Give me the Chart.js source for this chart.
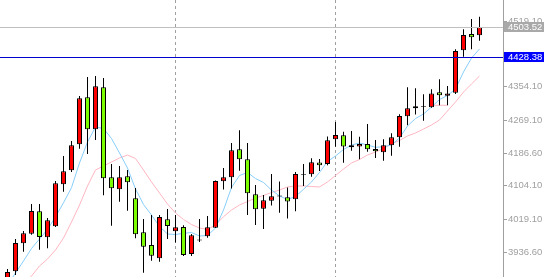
<!DOCTYPE html>
<html>
<head>
<meta charset="utf-8">
<title>Candles</title>
<script src="https://cdn.jsdelivr.net/npm/chart.js@4.4.1/dist/chart.umd.min.js"></script>
<style>
  html, body { margin: 0; padding: 0; background: #fff; }
  #wrap { position: relative; width: 544px; height: 277px; }
</style>
</head>
<body>
<div id="wrap"><canvas id="chart"></canvas></div>
<script>
// bar values (price units)
const OPEN = [3869.4, 3888.8, 3959.3, 3983.5, 4039.9, 3974.4, 4002.1, 4107.9, 4143.1, 4208.6,
  4327.0, 4246.4, 4352.1, 4125.5, 4095.3, 4128.0, 4072.6, 3987.0, 3955.0, 3921.5,
  4019.7, 3989.5, 4000.3, 3932.3, 3966.3, 3976.9, 3998.6, 4115.4, 4125.5, 4196.0,
  4170.8, 4082.7, 4046.4, 4066.6, 4077.4, 4075.1, 4070.1, 4131.0, 4133.3, 4162.8,
  4159.0, 4221.2, 4231.5, 4206.1, 4203.3, 4209.4, 4196.8, 4188.5, 4206.3, 4226.2,
  4279.1, 4299.3, 4302.3, 4301.8, 4339.6, 4331.0, 4338.5, 4445.3, 4486.4, 4483.1];
const HIGH = [3894.6, 3970.1, 3990.2, 4058.2, 4058.2, 4023.0, 4116.2, 4179.1, 4216.9, 4330.2,
  4378.1, 4380.6, 4375.6, 4159.0, 4153.9, 4143.9, 4098.5, 4020.5, 4030.5, 4030.5,
  4045.7, 4030.5, 4004.6, 3982.7, 4020.5, 4028.0, 4117.4, 4148.9, 4211.9, 4243.9,
  4211.9, 4106.1, 4080.9, 4133.8, 4114.9, 4099.8, 4138.8, 4159.0, 4173.3, 4171.6,
  4228.2, 4264.8, 4240.3, 4242.1, 4227.7, 4259.7, 4219.4, 4221.2, 4236.3, 4284.4,
  4352.1, 4349.6, 4334.8, 4347.4, 4372.3, 4355.4, 4447.8, 4498.2, 4524.2, 4529.9];
const LOW = [3859.3, 3879.4, 3938.1, 3980.9, 3943.2, 3946.7, 4000.3, 4089.2, 4138.8, 4197.5,
  4184.2, 4219.4, 4080.2, 4003.6, 4064.0, 4041.4, 3971.9, 3885.2, 3915.5, 3912.9,
  3970.1, 3961.3, 3927.3, 3927.3, 3962.5, 3973.4, 3997.8, 4094.8, 4097.3, 4142.1,
  4030.5, 4005.4, 3995.3, 4054.5, 4036.3, 4021.7, 4039.9, 4103.6, 4127.0, 4141.4,
  4156.0, 4202.6, 4162.3, 4192.5, 4170.8, 4190.0, 4174.1, 4167.0, 4179.9, 4202.6,
  4256.7, 4283.6, 4268.0, 4300.5, 4306.8, 4306.8, 4335.3, 4429.2, 4447.8, 4469.5];
const CLOSE = [3887.0, 3960.0, 3984.5, 4040.6, 3975.1, 4017.2, 4110.4, 4140.6, 4206.1, 4324.4,
  4246.4, 4354.7, 4123.0, 4097.8, 4125.5, 4112.9, 3981.9, 3950.7, 3928.0, 4025.5,
  4002.8, 3999.6, 3929.8, 3979.4, 3968.8, 3999.6, 4116.2, 4125.5, 4193.5, 4170.8,
  4085.2, 4044.9, 4067.6, 4077.6, 4079.6, 4064.5, 4133.8, 4133.2, 4163.3, 4155.7,
  4218.7, 4232.0, 4203.1, 4201.0, 4209.4, 4196.3, 4191.0, 4206.1, 4226.5, 4279.9,
  4299.3, 4304.5, 4304.5, 4336.5, 4332.0, 4336.5, 4443.6, 4483.9, 4478.1, 4503.52];

// moving averages as drawn
const MA_FAST = [3854.3, 3884.5, 3914.7, 3946.2, 3970.1, 3994.0, 4026.0, 4061.3, 4099.5, 4161.5,
  4214.4, 4252.2, 4248.4, 4223.2, 4186.7, 4148.9, 4096.0, 4057.0, 4030.5, 4001.6,
  3982.7, 3981.4, 3984.5, 3986.5, 3977.7, 3978.9, 3997.8, 4043.1, 4099.8, 4130.0,
  4137.6, 4122.5, 4112.4, 4093.5, 4078.4, 4069.6, 4077.1, 4095.3, 4113.7, 4137.6,
  4165.3, 4179.1, 4195.5, 4206.8, 4211.9, 4206.8, 4201.0, 4202.6, 4206.8, 4224.5,
  4254.7, 4273.6, 4284.9, 4302.5, 4321.4, 4331.5, 4347.9, 4390.7, 4425.9, 4448.6];
const MA_SLOW = [3803.9, 3829.1, 3856.8, 3876.9, 3902.1, 3919.7, 3942.4, 3972.6, 4012.9, 4055.7,
  4103.6, 4143.9, 4153.9, 4164.0, 4174.1, 4181.6, 4172.8, 4143.9, 4113.7, 4085.9,
  4058.2, 4035.6, 4019.2, 4006.6, 3997.8, 3994.0, 4005.4, 4026.3, 4043.1, 4055.7,
  4064.5, 4073.4, 4079.7, 4087.2, 4093.5, 4101.1, 4103.6, 4103.6, 4102.3, 4101.1,
  4113.7, 4130.0, 4146.4, 4161.5, 4170.3, 4181.6, 4189.2, 4198.0, 4209.4, 4218.2,
  4229.5, 4237.1, 4247.1, 4257.2, 4269.8, 4292.5, 4315.1, 4340.3, 4360.5, 4380.6];
const STEP_BARS = [53, 55];
const STEP_LEVEL = 4306.8;

const Y_TICKS = [3936.6, 4019.1, 4104.1, 4186.6, 4269.1, 4354.1, 4519.1];
const Y_MIN = 3874.4;
const Y_MAX = 4572.0;
const BID = 4503.52;
const LEVEL = 4428.38;
const SEPARATORS = [21, 41];

const UP = "#ff0000";
const DOWN = "#7cfc00";
const AXIS = "#a0a0a0";
const FONT = '"Liberation Sans", Arial, sans-serif';

const wicks = LOW.map((l, i) => ({ x: i, y: [l, HIGH[i]] }));
const bodies = OPEN.map((o, i) => ({ x: i, y: [o, CLOSE[i]] }));
const bodyColors = OPEN.map((o, i) => (CLOSE[i] >= o ? UP : DOWN));

const overlay = {
  id: "overlay",
  beforeDatasetsDraw(chart) {
    const { ctx, chartArea: a, scales: { x } } = chart;
    ctx.save();
    ctx.strokeStyle = AXIS;
    ctx.lineWidth = 1;
    ctx.setLineDash([3, 3]);
    SEPARATORS.forEach(i => {
      const px = x.getPixelForValue(i);
      ctx.beginPath();
      ctx.moveTo(px, a.top);
      ctx.lineTo(px, a.bottom);
      ctx.stroke();
    });
    ctx.restore();
  },
  afterDatasetsDraw(chart) {
    const { ctx, chartArea: a, scales: { y } } = chart;
    ctx.save();
    ctx.lineWidth = 1;
    [[BID, "#c0c0c0"], [LEVEL, "#0000cd"]].forEach(([v, c]) => {
      const py = Math.round(y.getPixelForValue(v)) + 0.5;
      ctx.strokeStyle = c;
      ctx.beginPath();
      ctx.moveTo(a.left, py);
      ctx.lineTo(a.right, py);
      ctx.stroke();
    });
    ctx.restore();
  },
  afterDraw(chart) {
    const { ctx, chartArea: a, scales: { y } } = chart;
    ctx.save();
    ctx.font = "9.5px " + FONT;
    ctx.textBaseline = "middle";
    [[BID, "#a9a9a9"], [LEVEL, "#0000ff"]].forEach(([v, c]) => {
      const py = Math.round(y.getPixelForValue(v));
      ctx.fillStyle = c;
      ctx.fillRect(a.right + 1, py - 5, 41, 10);
      ctx.fillStyle = "#ffffff";
      ctx.fillText(v.toFixed(2), a.right + 5, py + 0.5);
    });
    ctx.restore();
  }
};

new Chart(document.getElementById("chart"), {
  type: "bar",
  data: {
    datasets: [
      {
        type: "line",
        label: "MA slow",
        data: MA_SLOW.map((v, i) => ({ x: i, y: v })),
        borderColor: "#ffb6c1",
        borderWidth: 1,
        pointRadius: 0,
        tension: 0,
        order: 5
      },
      {
        type: "line",
        label: "MA fast",
        data: MA_FAST.map((v, i) => ({ x: i, y: v })),
        borderColor: "#87cefa",
        borderWidth: 1,
        pointRadius: 0,
        tension: 0,
        order: 4
      },
      {
        type: "line",
        label: "step",
        data: STEP_BARS.map(i => ({ x: i, y: STEP_LEVEL })),
        borderColor: "#ffb6c1",
        borderWidth: 1,
        pointRadius: 0,
        order: 3
      },
      {
        label: "wicks",
        data: wicks,
        backgroundColor: "#000000",
        borderWidth: 0,
        barThickness: 1,
        grouped: false,
        inflateAmount: 0,
        order: 2
      },
      {
        label: "bodies",
        data: bodies,
        backgroundColor: bodyColors,
        borderColor: "#000000",
        borderWidth: 1,
        borderSkipped: false,
        barThickness: 5,
        grouped: false,
        inflateAmount: 0,
        order: 1
      }
    ]
  },
  options: {
    animation: false,
    responsive: true,
    maintainAspectRatio: false,
    layout: { padding: 0 },
    plugins: {
      legend: { display: false },
      tooltip: { enabled: false }
    },
    scales: {
      x: {
        type: "linear",
        display: false,
        offset: false,
        min: -0.9375,
        max: 61.9375
      },
      y: {
        position: "right",
        min: Y_MIN,
        max: Y_MAX,
        afterBuildTicks: s => { s.ticks = Y_TICKS.map(v => ({ value: v })); },
        afterFit: s => { s.width = 41; s.paddingTop = 0; s.paddingBottom = 0; },
        grid: { drawOnChartArea: false, drawTicks: true, tickLength: 4, color: AXIS },
        border: { display: true, color: AXIS },
        ticks: {
          autoSkip: false,
          color: AXIS,
          padding: 1,
          font: { family: FONT, size: 9.5 },
          callback: v => Number(v).toFixed(2)
        }
      }
    }
  },
  plugins: [overlay]
});
</script>
</body>
</html>
